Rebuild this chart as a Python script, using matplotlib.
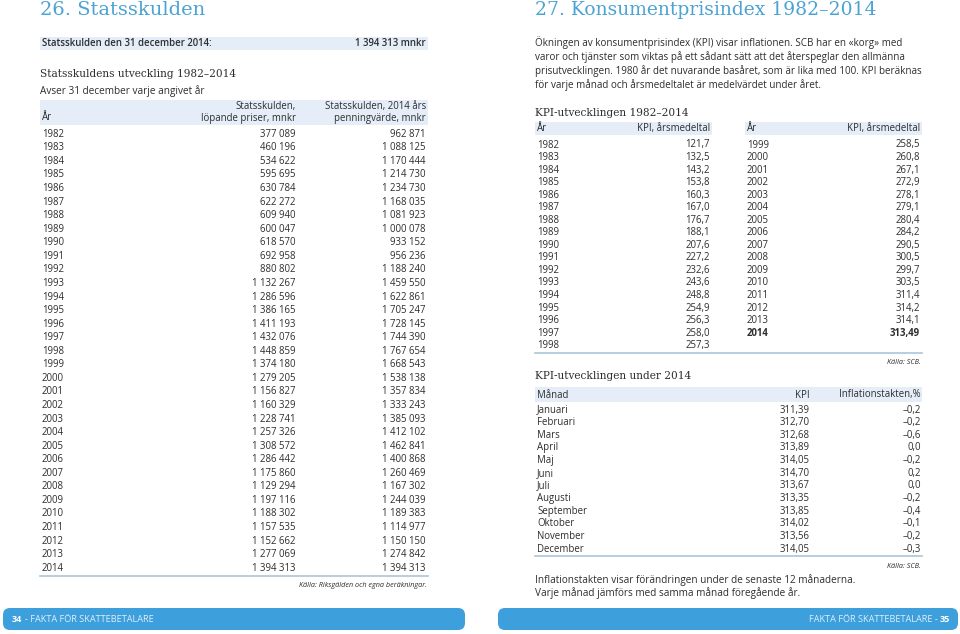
import matplotlib.pyplot as plt
from matplotlib.patches import Rectangle, FancyBboxPatch

# ---- data ----
debt_years = list(range(1982, 2015))
debt_current = [377089, 460196, 534622, 595695, 630784, 622272, 609940, 600047,
                618570, 692958, 880802, 1132267, 1286596, 1386165, 1411193, 1432076,
                1448859, 1374180, 1279205, 1156827, 1160329, 1228741, 1257326, 1308572,
                1286442, 1175860, 1129294, 1197116, 1188302, 1157535, 1152662, 1277069,
                1394313]
debt_2014 = [962871, 1088125, 1170444, 1214730, 1234730, 1168035, 1081923, 1000078,
             933152, 956236, 1188240, 1459550, 1622861, 1705247, 1728145, 1744390,
             1767654, 1668543, 1538138, 1357834, 1333243, 1385093, 1412102, 1462841,
             1400868, 1260469, 1167302, 1244039, 1189383, 1114977, 1150150, 1274842,
             1394313]

kpi_years = list(range(1982, 2015))
kpi_values = [121.7, 132.5, 143.2, 153.8, 160.3, 167.0, 176.7, 188.1, 207.6, 227.2,
              232.6, 243.6, 248.8, 254.9, 256.3, 258.0, 257.3,
              258.5, 260.8, 267.1, 272.9, 278.1, 279.1, 280.4, 284.2, 290.5, 300.5,
              299.7, 303.5, 311.4, 314.2, 314.1, 313.49]

months = ['Januari', 'Februari', 'Mars', 'April', 'Maj', 'Juni', 'Juli', 'Augusti',
          'September', 'Oktober', 'November', 'December']
kpi_month = [311.39, 312.70, 312.68, 313.89, 314.05, 314.70, 313.67, 313.35,
             313.85, 314.02, 313.56, 314.05]
inflation = [-0.2, -0.2, -0.6, 0.0, -0.2, 0.2, 0.0, -0.2, -0.4, -0.1, -0.2, -0.3]

# ---- style ----
BLUE = '#4ba3d3'
BAR = '#3d9fdc'
BAND = '#e4edf8'
TXT = '#2e2e2e'
SANS = 'Open Sans'
SLAB = 'DejaVu Serif'
FS = 6.9


def fmt_int(v):
    return f'{v:,}'.replace(',', ' ')


def fmt_dec(v, d=1):
    s = f'{abs(v):.{d}f}'.replace('.', ',')
    return ('\u2013' + s) if v < 0 else s


fig = plt.figure(figsize=(9.6, 6.34), dpi=100)
ax = fig.add_axes([0, 0, 1, 1])
ax.set_xlim(0, 960)
ax.set_ylim(634, 0)
ax.axis('off')


def txt(x, y, s, ha='left', size=FS, **kw):
    kw.setdefault('color', TXT)
    kw.setdefault('family', SANS)
    ax.text(x, y, s, ha=ha, va='center', fontsize=size, **kw)


def band(x0, x1, y0, y1):
    ax.add_patch(Rectangle((x0, y0), x1 - x0, y1 - y0, color=BAND, lw=0))


# ================= left page =================
txt(40, 10, '26. Statsskulden', size=14, color=BLUE, family=SLAB)

band(40, 428, 37, 50)
txt(42, 43.5, 'Statsskulden den 31 december 2014:', weight='semibold')
txt(426, 43.5, '1 394 313 mnkr', ha='right', weight='semibold')

txt(40, 74, 'Statsskuldens utveckling 1982\u20132014', size=7.6, family=SLAB)
txt(40, 91, 'Avser 31 december varje angivet år', size=7.2)

band(40, 428, 100, 125)
txt(42, 118, 'År')
txt(296, 107, 'Statsskulden,', ha='right')
txt(296, 118, 'löpande priser, mnkr', ha='right')
txt(426, 107, 'Statsskulden, 2014 års', ha='right')
txt(426, 118, 'penningvärde, mnkr', ha='right')

row_h = 13.56
for i, yr in enumerate(debt_years):
    y = 134.3 + i * row_h
    txt(42, y, str(yr))
    txt(296, y, fmt_int(debt_current[i]), ha='right')
    txt(426, y, fmt_int(debt_2014[i]), ha='right')
ax.plot([40, 428], [576, 576], color='#a9c6d8', lw=1.2)
txt(427, 585.5, 'Källa: Riksgälden och egna beräkningar.', ha='right', size=5.2,
    style='italic')

ax.add_patch(FancyBboxPatch((3, 608), 462, 22, boxstyle='round,pad=0,rounding_size=7',
                            color=BAR, lw=0))
txt(12, 619, '34', color='white', weight='bold', size=6.6)
txt(25, 619, '- FAKTA FÖR SKATTEBETALARE', color='#dff0fb', size=6.6)

# ================= right page =================
txt(535, 10, '27. Konsumentprisindex 1982\u20132014', size=13.5, color=BLUE, family=SLAB)

para = ['Ökningen av konsumentprisindex (KPI) visar inflationen. SCB har en «korg» med',
        'varor och tjänster som viktas på ett sådant sätt att det återspeglar den allmänna',
        'prisutvecklingen. 1980 år det nuvarande basåret, som är lika med 100. KPI beräknas',
        'för varje månad och årsmedeltalet är medelvärdet under året.']
for i, line in enumerate(para):
    txt(535, 43 + i * 14, line, size=7.1)

txt(535, 113, 'KPI-utvecklingen 1982\u20132014', size=7.6, family=SLAB)
band(535, 712, 122, 135)
band(745, 922, 122, 135)
txt(537, 128.5, 'År')
txt(710, 128.5, 'KPI, årsmedeltal', ha='right')
txt(747, 128.5, 'År')
txt(920, 128.5, 'KPI, årsmedeltal', ha='right')

kpi_h = 12.54
split = 17
for i, yr in enumerate(kpi_years):
    col = i // split
    y = 145 + (i % split) * kpi_h
    xl, xr = (537, 710) if col == 0 else (747, 920)
    last = yr == kpi_years[-1]
    w = 'bold' if last else 'normal'
    txt(xl, y, str(yr), weight=w)
    txt(xr, y, fmt_dec(kpi_values[i], 2 if last else 1), ha='right', weight=w)
ax.plot([535, 922], [353.3, 353.3], color='#a9c6d8', lw=1.2)
txt(921, 363, 'Källa: SCB.', ha='right', size=5.2, style='italic')

txt(535, 376, 'KPI-utvecklingen under 2014', size=7.6, family=SLAB)
band(535, 922, 387, 402)
txt(537, 395, 'Månad')
txt(810, 395, 'KPI', ha='right')
txt(921, 395, 'Inflationstakten,%', ha='right')

m_h = 12.64
for i, m in enumerate(months):
    y = 410 + i * m_h
    txt(537, y, m)
    txt(810, y, fmt_dec(kpi_month[i], 2), ha='right')
    txt(921, y, fmt_dec(inflation[i], 1), ha='right')
ax.plot([535, 922], [556, 556], color='#a9c6d8', lw=1.2)
txt(921, 566.5, 'Källa: SCB.', ha='right', size=5.2, style='italic')

txt(535, 580, 'Inflationstakten visar förändringen under de senaste 12 månaderna.', size=7.2)
txt(535, 593, 'Varje månad jämförs med samma månad föregående år.', size=7.2)

ax.add_patch(FancyBboxPatch((498, 608), 460, 22, boxstyle='round,pad=0,rounding_size=7',
                            color=BAR, lw=0))
txt(950, 619, '35', ha='right', color='white', weight='bold', size=6.6)
txt(938, 619, 'FAKTA FÖR SKATTEBETALARE -', ha='right', color='#dff0fb', size=6.6)

fig.savefig('out.png', dpi=100)
